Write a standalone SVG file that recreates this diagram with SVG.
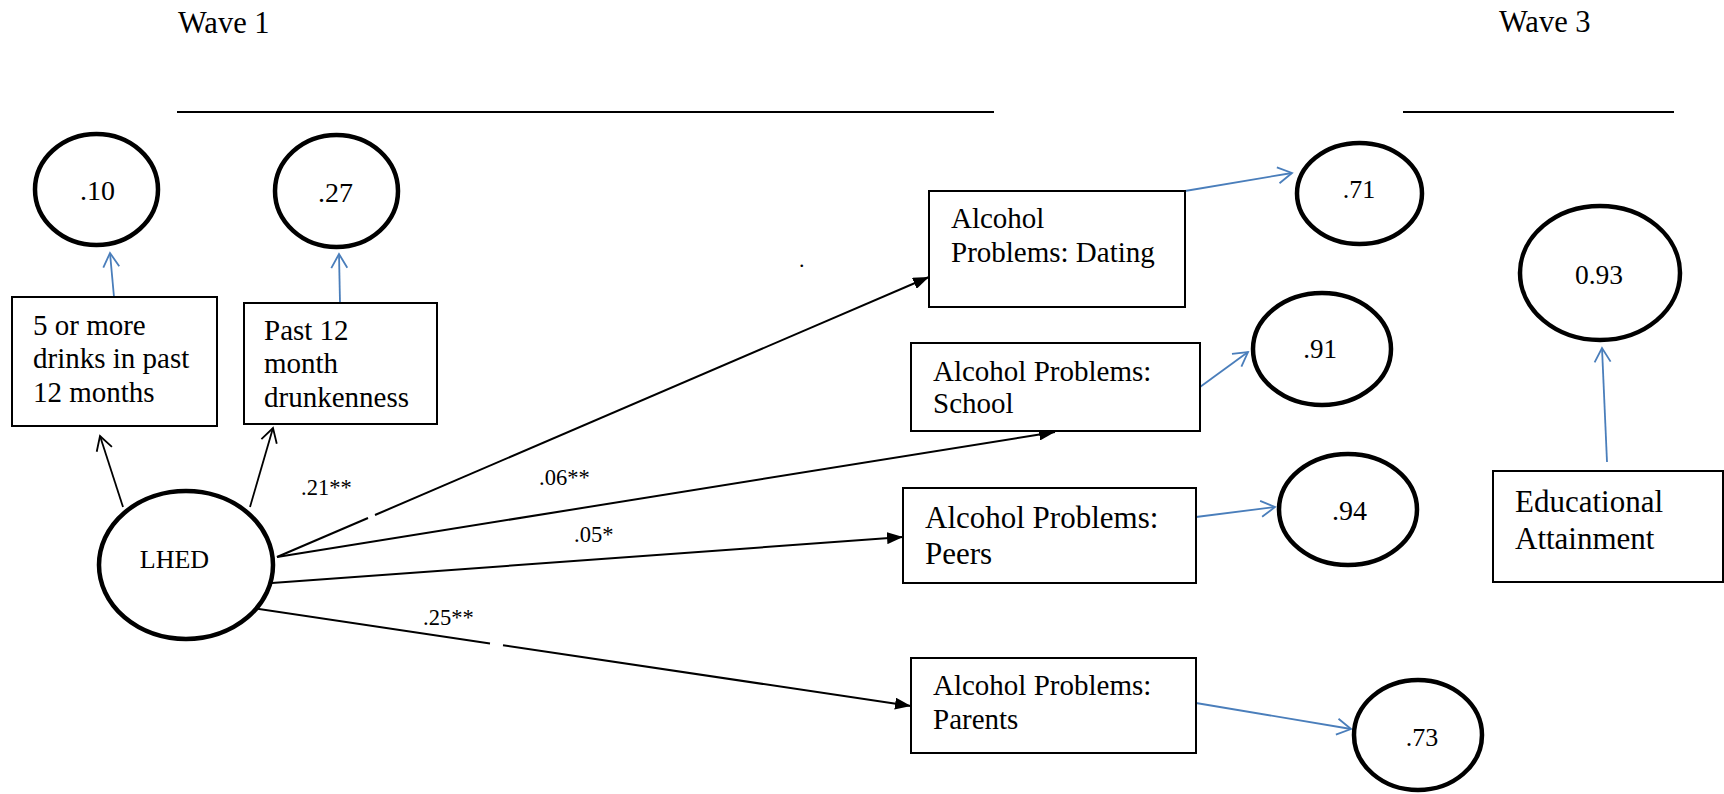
<svg xmlns="http://www.w3.org/2000/svg" width="1724" height="794" viewBox="0 0 1724 794">
<style>
  text { font-family: "Liberation Serif", "Times New Roman", serif; fill: #000; }
  .box { fill: #fff; stroke: #000; stroke-width: 2; }
  .err { fill: #fff; stroke: #000; stroke-width: 4.5; }
  .path { stroke: #000; stroke-width: 2; fill: none; }
  .thin { stroke: #000; stroke-width: 1.8; fill: none; }
  .blue { stroke: #4a7ebb; stroke-width: 1.8; fill: none; }
  .rule { stroke: #000; stroke-width: 2; }
  .coef { font-size: 22.5px; }
</style>
<defs>
  <marker id="fillHead" markerUnits="userSpaceOnUse" viewBox="0 0 16 12" refX="16" refY="6" markerWidth="16" markerHeight="12" orient="auto">
    <path d="M0,0 L16,6 L0,12 z" fill="#000"/>
  </marker>
  <marker id="openHead" markerUnits="userSpaceOnUse" viewBox="-2 -2 18 20" refX="14" refY="8" markerWidth="18" markerHeight="20" orient="auto">
    <path d="M0,0 L14,8 L0,16" fill="none" stroke="#000" stroke-width="1.8"/>
  </marker>
  <marker id="blueHead" markerUnits="userSpaceOnUse" viewBox="-2 -2 18 20" refX="14" refY="8" markerWidth="18" markerHeight="20" orient="auto">
    <path d="M0,0 L14,8 L0,16" fill="none" stroke="#4a7ebb" stroke-width="1.8"/>
  </marker>
</defs>

<g id="headers">
  <text x="178" y="33" font-size="30.5">Wave 1</text>
  <line class="rule" x1="177" y1="112" x2="994" y2="112"/>
  <text x="1499" y="32" font-size="30.5">Wave 3</text>
  <line class="rule" x1="1403" y1="112" x2="1674" y2="112"/>
  <text x="799" y="267" font-size="22">.</text>
</g>

<g id="connectors">
  <line class="thin" x1="123" y1="507" x2="100" y2="436" marker-end="url(#openHead)"/>
  <line class="thin" x1="250" y1="507" x2="273" y2="428" marker-end="url(#openHead)"/>
  <line class="path" x1="277" y1="557" x2="368" y2="518"/>
  <line class="path" x1="375" y1="515" x2="929" y2="277" marker-end="url(#fillHead)"/>
  <line class="path" x1="277" y1="557" x2="1055" y2="432" marker-end="url(#fillHead)"/>
  <line class="path" x1="258" y1="584" x2="903" y2="537" marker-end="url(#fillHead)"/>
  <line class="path" x1="252" y1="608" x2="490" y2="643.4"/>
  <line class="path" x1="503" y1="645.3" x2="911" y2="706" marker-end="url(#fillHead)"/>
  <line class="blue" x1="114" y1="297" x2="110" y2="253" marker-end="url(#blueHead)"/>
  <line class="blue" x1="340" y1="303" x2="339" y2="254" marker-end="url(#blueHead)"/>
  <line class="blue" x1="1185" y1="191" x2="1292" y2="173" marker-end="url(#blueHead)"/>
  <line class="blue" x1="1200" y1="387" x2="1248" y2="352" marker-end="url(#blueHead)"/>
  <line class="blue" x1="1196" y1="517" x2="1275" y2="507" marker-end="url(#blueHead)"/>
  <line class="blue" x1="1196" y1="703" x2="1351" y2="729" marker-end="url(#blueHead)"/>
  <line class="blue" x1="1607" y1="462" x2="1602" y2="348" marker-end="url(#blueHead)"/>
  <text class="coef" x="301" y="495">.21**</text>
  <text class="coef" x="539" y="485">.06**</text>
  <text class="coef" x="574" y="542">.05*</text>
  <text class="coef" x="423" y="625">.25**</text>
</g>

<g id="LHED">
  <ellipse class="err" cx="186" cy="565" rx="87" ry="74"/>
  <text x="174.5" y="568" font-size="26" text-anchor="middle">LHED</text>
</g>

<g id="err10">
  <ellipse class="err" cx="96.5" cy="189.5" rx="61.5" ry="55.5"/>
  <text x="97.5" y="200" font-size="28" text-anchor="middle">.10</text>
</g>
<g id="err27">
  <ellipse class="err" cx="336.5" cy="191" rx="61.5" ry="56"/>
  <text x="335.5" y="202" font-size="28" text-anchor="middle">.27</text>
</g>

<g id="drinks">
  <rect class="box" x="12" y="297" width="205" height="129"/>
  <text font-size="29"><tspan x="33" y="335">5 or more</tspan><tspan x="33" y="368">drinks in past</tspan><tspan x="33" y="402">12 months</tspan></text>
</g>
<g id="drunkenness">
  <rect class="box" x="244" y="303" width="193" height="121"/>
  <text font-size="29"><tspan x="264" y="340">Past 12</tspan><tspan x="264" y="373">month</tspan><tspan x="264" y="407">drunkenness</tspan></text>
</g>

<g id="dating">
  <rect class="box" x="929" y="191" width="256" height="116"/>
  <text font-size="29"><tspan x="951" y="228">Alcohol</tspan><tspan x="951" y="262">Problems: Dating</tspan></text>
</g>
<g id="school">
  <rect class="box" x="911" y="343" width="289" height="88"/>
  <text font-size="29"><tspan x="933" y="381">Alcohol Problems:</tspan><tspan x="933" y="413">School</tspan></text>
</g>
<g id="peers">
  <rect class="box" x="903" y="488" width="293" height="95"/>
  <text font-size="31"><tspan x="925" y="528">Alcohol Problems:</tspan><tspan x="925" y="564">Peers</tspan></text>
</g>
<g id="parents">
  <rect class="box" x="911" y="658" width="285" height="95"/>
  <text font-size="29"><tspan x="933" y="695">Alcohol Problems:</tspan><tspan x="933" y="729">Parents</tspan></text>
</g>

<g id="err71">
  <ellipse class="err" cx="1359.5" cy="193.5" rx="62.5" ry="50.5"/>
  <text x="1359" y="198" font-size="26" text-anchor="middle">.71</text>
</g>
<g id="err91">
  <ellipse class="err" cx="1322" cy="349" rx="69" ry="56"/>
  <text x="1320" y="358" font-size="27" text-anchor="middle">.91</text>
</g>
<g id="err94">
  <ellipse class="err" cx="1348" cy="509.5" rx="69" ry="55.5"/>
  <text x="1349.5" y="520" font-size="28" text-anchor="middle">.94</text>
</g>
<g id="err73">
  <ellipse class="err" cx="1418" cy="735" rx="64" ry="55"/>
  <text x="1422" y="746" font-size="26" text-anchor="middle">.73</text>
</g>

<g id="err093">
  <ellipse class="err" cx="1600" cy="273" rx="80" ry="67"/>
  <text x="1599" y="284" font-size="27.5" text-anchor="middle">0.93</text>
</g>
<g id="education">
  <rect class="box" x="1493" y="471" width="230" height="111"/>
  <text font-size="31"><tspan x="1515" y="512">Educational</tspan><tspan x="1515" y="549">Attainment</tspan></text>
</g>
</svg>
